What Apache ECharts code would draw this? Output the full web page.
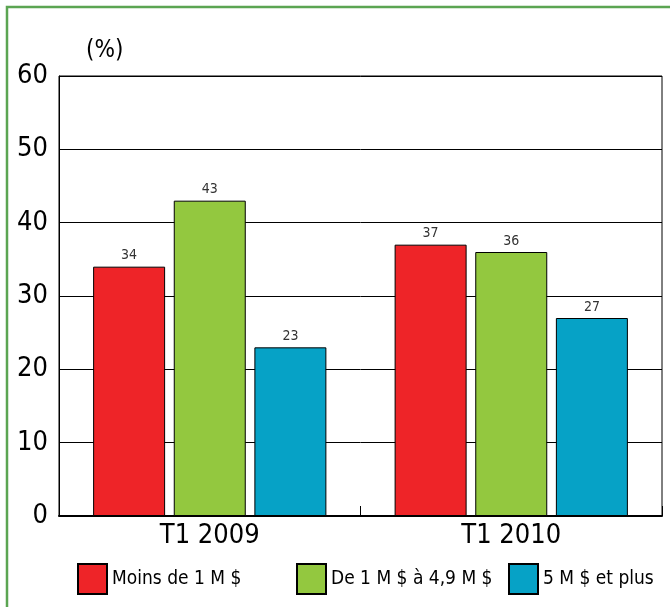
<!DOCTYPE html>
<html><head><meta charset="utf-8">
<script src="https://cdn.jsdelivr.net/npm/echarts@6/dist/echarts.min.js"></script>
<style>html,body{margin:0;padding:0;background:#fff}#c{width:670px;height:607px}</style>
</head><body><div id="c"></div>
<script>
const categories = ['T1 2009', 'T1 2010'];
const seriesNames = ['Moins de 1 M $', 'De 1 M $ à 4,9 M $', '5 M $ et plus'];
const moins1 = [34, 37];
const de1a49 = [43, 36];
const cinqPlus = [23, 27];
const yTicks = [0, 10, 20, 30, 40, 50, 60];
const colors = ['#ee2428', '#93c83f', '#06a2c6'];

const FONT = "'Liberation Sans Narrow','DejaVu Sans Condensed',sans-serif";
const chart = echarts.init(document.getElementById('c'), null, {renderer: 'canvas'});
const values = [moins1, de1a49, cinqPlus];
const legendLefts = [77, 296, 508];
chart.setOption({
  animation: false,
  textStyle: {fontFamily: FONT},
  grid: {left: 59, right: 8, top: 76, bottom: 91, show: true, borderColor: '#000', borderWidth: 1},
  graphic: [
    {type: 'rect', shape: {x: 7, y: 7, width: 700, height: 700}, style: {fill: 'none', stroke: '#5ba552', lineWidth: 2.5}, z: 100},
    {type: 'text', left: 86, top: 39, style: {text: '(%)', font: '24px ' + FONT, fill: '#000'}}
  ],
  legend: seriesNames.map((n, i) => ({
    data: [n], left: legendLefts[i], top: 563, padding: 0, itemWidth: 29, itemHeight: 30, itemGap: 0,
    icon: 'rect',
    textStyle: {fontSize: 19, color: '#000', fontFamily: FONT}
  })),
  xAxis: {
    type: 'category', data: categories,
    axisLine: {lineStyle: {color: '#000', width: 2}},
    axisTick: {show: true, inside: true, length: 10, lineStyle: {color: '#000'}},
    axisLabel: {fontSize: 27, color: '#000', margin: 6, fontFamily: FONT}
  },
  yAxis: {
    type: 'value', min: yTicks[0], max: yTicks[yTicks.length - 1], interval: 10,
    axisLine: {show: true, lineStyle: {color: '#000', width: 1}},
    axisTick: {show: false},
    splitLine: {lineStyle: {color: '#000', width: 1}},
    axisLabel: {fontSize: 27, color: '#000', margin: 11, fontFamily: FONT}
  },
  series: seriesNames.map((n, i) => ({
    name: n, type: 'bar', data: values[i],
    barWidth: 72, barGap: '12%',
    itemStyle: {color: colors[i], borderColor: '#000', borderWidth: 1},
    label: {show: true, position: 'top', distance: 4, fontSize: 14, color: '#333', fontFamily: FONT}
  }))
});
</script></body></html>
